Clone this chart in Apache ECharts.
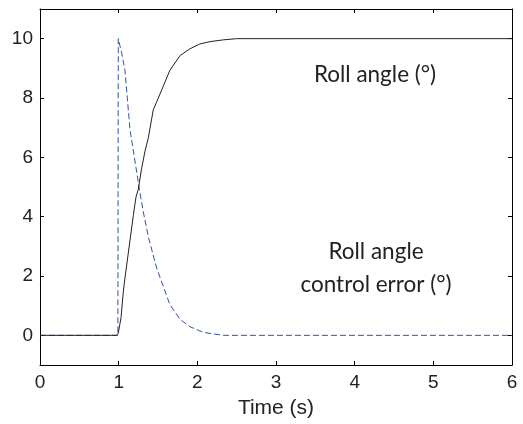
<!DOCTYPE html>
<html>
<head>
<meta charset="utf-8">
<script src="https://cdn.jsdelivr.net/npm/echarts@6/dist/echarts.min.js"></script>
<style>html,body{margin:0;padding:0;background:#fff}#c{width:523px;height:424px}</style>
</head>
<body>
<div id="c"></div>
<script>
const rollT = [0, 0.975, 0.995, 1.03, 1.06, 1.08, 1.153, 1.186, 1.22, 1.25, 1.29, 1.335, 1.377, 1.44, 1.547, 1.65, 1.78, 1.907, 2.03, 2.16, 2.33, 2.5, 6];
const rollV = [0, 0, 0.07, 0.6, 1.49, 1.93, 3.38, 4.04, 4.66, 4.93, 5.6, 6.21, 6.66, 7.6, 8.27, 8.93, 9.43, 9.66, 9.82, 9.9, 9.96, 10, 10];
const errT = [0, 0.99, 0.995, 1.04, 1.08, 1.144, 1.22, 1.263, 1.313, 1.356, 1.377, 1.483, 1.65, 1.78, 1.907, 2.076, 2.2, 2.33, 6];
const errV = [0, 0, 10, 9.49, 8.93, 6.93, 5.66, 4.93, 4.16, 3.6, 3.32, 2.27, 1.04, 0.54, 0.29, 0.1, 0.05, 0, 0];
const xTicks = [0, 1, 2, 3, 4, 5, 6];
const yTicks = [0, 2, 4, 6, 8, 10];
const xTitle = 'Time (s)';
const label1 = 'Roll angle (°)';
const label2a = 'Roll angle';
const label2b = 'control error (°)';

const zip = (a, b) => a.map((t, i) => [t, b[i]]);
const lbl = {fontFamily: 'Liberation Sans', fontSize: 19, color: '#222'};
const axLine = {show: true, onZero: false, lineStyle: {color: '#000', width: 1}};
const tick = (vals) => ({show: true, inside: true, length: 4, customValues: vals, lineStyle: {color: '#000'}});
const annFont = '22.5px Lato';

const chart = echarts.init(document.getElementById('c'), null, {renderer: 'canvas'});
chart.setOption({
  animation: false,
  backgroundColor: '#fff',
  grid: {left: 40, right: 11, top: 9, bottom: 55, containLabel: false},
  xAxis: [
    {type: 'value', min: 0, max: 6, position: 'bottom',
     axisLine: axLine, splitLine: {show: false}, axisTick: tick(xTicks),
     axisLabel: Object.assign({customValues: xTicks, margin: 8}, lbl),
     name: xTitle, nameLocation: 'middle', nameGap: 33,
     nameTextStyle: {fontFamily: 'Liberation Sans', fontSize: 21, color: '#222'}},
    {type: 'value', min: 0, max: 6, position: 'top',
     axisLine: axLine, splitLine: {show: false}, axisTick: tick(xTicks),
     axisLabel: {show: false}}
  ],
  yAxis: [
    {type: 'value', min: -1, max: 11, position: 'left',
     axisLine: axLine, splitLine: {show: false}, axisTick: tick(yTicks),
     axisLabel: Object.assign({customValues: yTicks, margin: 7}, lbl)},
    {type: 'value', min: -1, max: 11, position: 'right',
     axisLine: axLine, splitLine: {show: false}, axisTick: tick(yTicks),
     axisLabel: {show: false}}
  ],
  series: [
    {type: 'line', name: 'Roll angle', data: zip(rollT, rollV), showSymbol: false, symbol: 'none',
     lineStyle: {color: '#222', width: 1}, z: 3},
    {type: 'line', name: 'Roll angle control error', data: zip(errT, errV), showSymbol: false, symbol: 'none',
     lineStyle: {color: '#2d52b8', width: 1, type: [6, 3]}, z: 2}
  ],
  graphic: [
    {type: 'text', x: 375, y: 75, style: {text: label1, font: annFont, fill: '#222', align: 'center', verticalAlign: 'middle'}},
    {type: 'text', x: 376, y: 252, style: {text: label2a, font: annFont, fill: '#222', align: 'center', verticalAlign: 'middle'}},
    {type: 'text', x: 376, y: 285, style: {text: label2b, font: annFont, fill: '#222', align: 'center', verticalAlign: 'middle'}}
  ]
});
</script>
</body>
</html>
